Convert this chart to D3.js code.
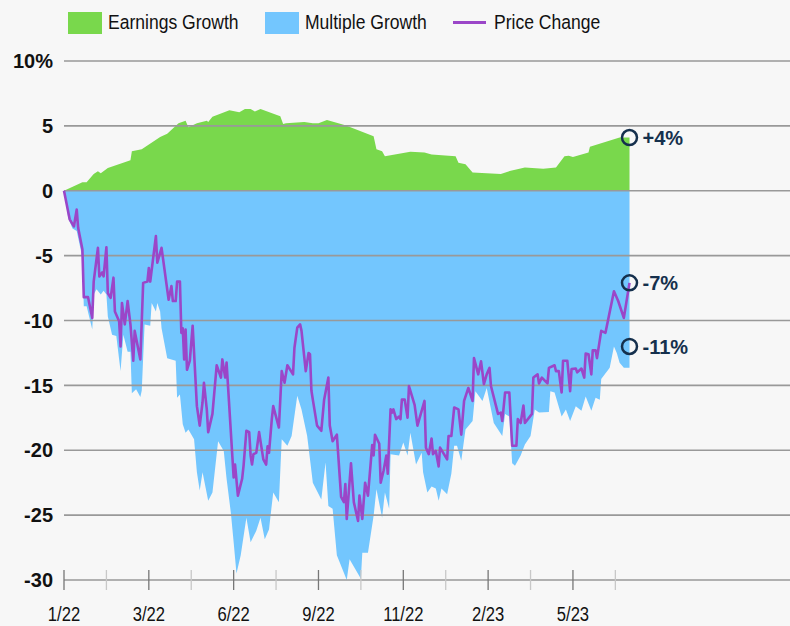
<!DOCTYPE html>
<html>
<head>
<meta charset="utf-8">
<style>
    body { margin: 0; background: #f7f7f7; }
    svg { display: block; font-family: "Liberation Sans", Arial, sans-serif; }
    .grid line { stroke: #999; stroke-width: 1.6px; }
    .ylab { font-weight: bold; font-size: 20px; fill: #111; }
    .xlab { font-size: 20px; fill: #111; }
    .legend text { font-size: 20.5px; fill: #111; }
    .annot { font-weight: bold; font-size: 20px; fill: #15304d; }
</style>
</head>
<body>
<svg></svg>
<script src="https://d3js.org/d3.v7.min.js"></script>
<script>
    var vWidth = 790;
    var vHeight = 626;

    // trading-day index, value (%)
    var earningsGrowth = [[0,0],[13,0.65],[16,0.65],[21,1.3],[24,1.5],[26,1.35],[31,1.75],[47,2.35],[48,3.05],[55,3.2],[68,4.15],[73,4.4],[81,5.2],[86,5.4],[88,4.9],[94,5.2],[101,5.4],[102,5.3],[105,5.7],[117,6.2],[124,6.05],[128,6.3],[132,6.3],[135,6.1],[139,6.3],[153,5.75],[155,5.15],[157,5.2],[170,5.3],[176,5.2],[180,5.2],[186,5.45],[199,5.05],[219,4.2],[221,3.2],[225,3.05],[227,2.65],[245,3.0],[255,2.95],[260,2.8],[277,2.65],[279,2.15],[284,2.05],[289,1.4],[309,1.3],[316,1.55],[326,1.8],[339,1.7],[348,1.8],[354,2.65],[357,2.7],[360,2.6],[371,2.95],[372,3.4],[393,4.1],[400,4.1]];

    var multipleGrowth = [[0,0],[3,-2.1],[6,-2.9],[9,-3.1],[13,-5.15],[14,-8.9],[16,-8.9],[20,-10.7],[21,-8.0],[23,-7.6],[26,-8.0],[28,-7.7],[30,-8.0],[31,-9.7],[34,-11.1],[37,-11.2],[40,-13.9],[42,-11.1],[45,-12.4],[47,-12.4],[48,-15.6],[51,-15.3],[54,-15.9],[55,-15.4],[57,-10.3],[61,-10.4],[62,-8.65],[65,-9.3],[66,-8.65],[68,-9.3],[69,-10.6],[73,-12.9],[79,-13.1],[80,-15.95],[82,-15.7],[84,-18.0],[86,-18.65],[88,-18.4],[92,-19.15],[94,-21.7],[96,-23.1],[98,-21.7],[102,-23.9],[105,-23.25],[109,-19.3],[113,-20.05],[115,-22.2],[118,-24.8],[120,-27.1],[122,-29.5],[125,-28.1],[129,-25.2],[132,-27.1],[136,-26.2],[139,-25.2],[142,-26.85],[145,-26.1],[148,-23.25],[152,-24.0],[154,-19.15],[158,-19.65],[161,-18.9],[165,-15.8],[168,-16.85],[172,-18.9],[174,-20.7],[176,-22.5],[182,-23.8],[185,-20.95],[187,-24.3],[190,-24.5],[193,-28.1],[200,-30],[202,-28.4],[210,-29.9],[211,-27.9],[215,-27.9],[219,-25.05],[221,-23.0],[225,-25.2],[227,-23.25],[230,-24.5],[231,-20.3],[237,-20.4],[240,-19.4],[243,-20.4],[245,-18.65],[249,-21.1],[253,-20.2],[254,-21.7],[257,-23.25],[260,-22.8],[263,-22.95],[265,-23.9],[267,-22.95],[271,-23.4],[274,-21.8],[276,-19.65],[278,-19.65],[281,-20.8],[284,-18.4],[289,-17.75],[291,-15.45],[296,-16.2],[299,-15.2],[304,-17.9],[310,-18.9],[312,-17.2],[315,-17.4],[317,-21.0],[319,-21.2],[323,-20.4],[326,-19.55],[330,-18.9],[333,-16.85],[336,-17.1],[343,-17.05],[344,-15.45],[347,-15.55],[352,-17.4],[355,-16.85],[358,-17.75],[362,-16.6],[366,-16.95],[369,-15.85],[373,-16.95],[376,-15.95],[379,-16.1],[380,-14.5],[386,-13.65],[389,-12.0],[391,-12.5],[393,-13.25],[396,-13.65],[400,-13.65]];

    var priceChange = [[0,0],[4,-2.2],[7,-2.75],[9,-1.45],[10,-2.85],[13,-4.5],[14,-8.2],[17,-8.2],[20,-9.8],[21,-7.0],[24,-4.4],[25,-6.6],[27,-6.3],[28,-6.6],[30,-4.35],[31,-7.9],[33,-8.25],[35,-6.7],[36,-9.3],[39,-10.05],[40,-12.0],[41,-8.65],[43,-10.3],[45,-8.5],[47,-10.3],[49,-13.1],[50,-10.8],[54,-13.0],[56,-7.1],[59,-7.0],[60,-5.95],[61,-7.0],[65,-3.5],[66,-5.55],[69,-4.4],[74,-8.4],[76,-7.35],[77,-8.5],[79,-8.5],[80,-7.0],[82,-7.0],[83,-10.95],[84,-10.6],[85,-13.0],[86,-10.7],[87,-13.8],[89,-13.1],[91,-10.4],[94,-16.6],[96,-18.1],[98,-16.3],[99,-14.8],[101,-16.85],[102,-18.6],[105,-17.2],[108,-13.45],[111,-14.4],[112,-13.0],[114,-14.4],[115,-13.25],[120,-22.1],[121,-21.1],[123,-23.5],[126,-22.2],[127,-21.2],[129,-18.5],[131,-18.6],[132,-20.4],[133,-21.1],[134,-20.3],[136,-20.2],[138,-18.6],[141,-20.7],[143,-21.1],[144,-19.7],[145,-20.2],[147,-17.6],[148,-16.6],[152,-18.25],[154,-13.9],[156,-14.8],[158,-13.45],[162,-14.15],[163,-12.1],[165,-10.55],[167,-10.3],[168,-10.8],[171,-13.9],[173,-12.5],[174,-12.6],[175,-15.4],[176,-16.1],[179,-18.1],[182,-18.5],[184,-16.1],[187,-14.4],[188,-18.1],[190,-19.3],[193,-18.8],[196,-23.6],[198,-24.0],[199,-22.6],[200,-25.3],[203,-21.0],[205,-24.0],[208,-25.45],[209,-23.5],[211,-25.3],[213,-22.5],[215,-23.5],[218,-19.6],[219,-20.4],[220,-18.8],[223,-19.5],[224,-22.5],[226,-21.6],[228,-20.4],[229,-21.8],[231,-16.85],[232,-17.1],[233,-16.85],[235,-17.6],[237,-17.4],[238,-17.6],[239,-16.1],[241,-16.1],[243,-17.5],[244,-15.05],[248,-16.5],[250,-18.1],[255,-16.2],[256,-19.8],[258,-20.3],[260,-19.1],[261,-20.3],[263,-20.05],[265,-21.25],[266,-19.8],[271,-20.7],[272,-18.9],[274,-18.9],[276,-16.7],[279,-16.85],[281,-18.8],[283,-16.2],[286,-15.2],[289,-16.2],[290,-12.9],[293,-14.15],[295,-13.15],[297,-14.9],[299,-14.15],[301,-13.65],[302,-15.05],[307,-17.2],[309,-17.1],[310,-17.75],[312,-15.55],[315,-15.55],[317,-19.65],[320,-19.65],[321,-17.6],[323,-17.9],[325,-16.55],[326,-17.9],[331,-17.2],[332,-14.4],[335,-14.15],[336,-14.85],[338,-14.4],[342,-14.85],[343,-13.65],[347,-13.45],[348,-13.9],[350,-13.9],[352,-15.55],[353,-13.1],[356,-13.1],[358,-15.45],[359,-13.75],[362,-13.7],[363,-14.0],[366,-13.7],[368,-14.4],[369,-12.55],[371,-12.6],[373,-14.15],[374,-12.3],[376,-12.3],[377,-12.9],[380,-10.8],[383,-10.95],[389,-7.75],[392,-8.5],[396,-9.8],[400,-7.1]];

    var xTickDays = [0, 30, 60, 90, 120, 150, 180, 210, 240, 270, 300, 330, 360, 390];
    var xTickLabels = {0: '1/22', 60: '3/22', 120: '6/22', 180: '9/22', 240: '11/22', 300: '2/23', 360: '5/23'};
    var yTicks = [10, 5, 0, -5, -10, -15, -20, -25, -30];

    var lastDay = 400;
    var annotValues = [4.1, -7.1, -12];
    var annotLabels = ['+4%', '-7%', '-11%'];

    var legendItems = [
        {name: 'Earnings Growth', type: 'rect', color: '#79d84c'},
        {name: 'Multiple Growth', type: 'rect', color: '#73c6fe'},
        {name: 'Price Change', type: 'line', color: '#9b46c8'}
    ];

    var svg = d3.select('svg').attr('width', vWidth).attr('height', vHeight);

    var x = d3.scaleLinear().domain([0, 400]).range([64, 629.5]);
    var y = d3.scaleLinear().domain([-30, 10]).range([580, 61]);

    // squeeze text to look like a narrow face (no narrow font installed)
    function condense(sel, k) {
        sel.each(function () {
            var len = this.getComputedTextLength();
            d3.select(this).attr('textLength', len * k).attr('lengthAdjust', 'spacingAndGlyphs');
        });
    }

    // areas
    var area = d3.area()
        .x(function (d) { return x(d[0]); })
        .y0(y(0))
        .y1(function (d) { return y(d[1]); });

    svg.append('path').datum(multipleGrowth).attr('d', area).attr('fill', '#73c6fe');
    svg.append('path').datum(earningsGrowth).attr('d', area).attr('fill', '#79d84c');

    // gridlines
    var grid = svg.append('g').attr('class', 'grid');
    grid.selectAll('line').data(yTicks).enter().append('line')
        .attr('x1', 64).attr('x2', vWidth)
        .attr('y1', function (d) { return y(d); })
        .attr('y2', function (d) { return y(d); });

    // x ticks
    svg.append('g').selectAll('line').data(xTickDays).enter().append('line')
        .attr('x1', function (d) { return x(d); })
        .attr('x2', function (d) { return x(d); })
        .attr('y1', y(-30) - 10).attr('y2', y(-30) + 10)
        .attr('stroke', function (d) { return xTickLabels[d] ? '#777' : '#c8c8c8'; })
        .attr('stroke-width', 1.3);

    svg.append('g').selectAll('text').data(xTickDays.filter(function (d) { return xTickLabels[d]; }))
        .enter().append('text')
        .attr('class', 'xlab')
        .attr('x', function (d) { return x(d); })
        .attr('y', 621)
        .attr('text-anchor', 'middle')
        .text(function (d) { return xTickLabels[d]; })
        .call(condense, 0.83);

    // y labels
    svg.append('g').selectAll('text').data(yTicks).enter().append('text')
        .attr('class', 'ylab')
        .attr('x', 53)
        .attr('y', function (d) { return y(d); })
        .attr('dy', '0.36em')
        .attr('text-anchor', 'end')
        .text(function (d) { return d === 10 ? '10%' : d; });

    // price line
    var line = d3.line()
        .x(function (d) { return x(d[0]); })
        .y(function (d) { return y(d[1]); });
    svg.append('path').datum(priceChange).attr('d', line)
        .attr('fill', 'none').attr('stroke', '#9b46c8')
        .attr('stroke-width', 2.6).attr('stroke-linejoin', 'round');

    // end annotations
    var ann = svg.append('g').selectAll('g').data(annotValues).enter().append('g');
    ann.append('circle')
        .attr('cx', x(lastDay))
        .attr('cy', function (d) { return y(d); })
        .attr('r', 7.5)
        .attr('fill', 'none').attr('stroke', '#15304d').attr('stroke-width', 2.5);
    ann.append('text')
        .attr('class', 'annot')
        .attr('x', x(lastDay) + 13)
        .attr('y', function (d) { return y(d); })
        .attr('dy', '0.36em')
        .text(function (d, i) { return annotLabels[i]; });

    // legend
    var legendX = [68, 265, 453];
    var lg = svg.append('g').attr('class', 'legend').selectAll('g').data(legendItems).enter().append('g')
        .attr('transform', function (d, i) { return 'translate(' + legendX[i] + ',0)'; });
    lg.filter(function (d) { return d.type === 'rect'; }).append('rect')
        .attr('x', 0).attr('y', 12).attr('width', 34).attr('height', 22)
        .attr('fill', function (d) { return d.color; });
    lg.filter(function (d) { return d.type === 'line'; }).append('line')
        .attr('x1', 0).attr('x2', 33).attr('y1', 22.5).attr('y2', 22.5)
        .attr('stroke', function (d) { return d.color; }).attr('stroke-width', 3);
    lg.append('text')
        .attr('x', function (d) { return d.type === 'rect' ? 40 : 41; })
        .attr('y', 29)
        .text(function (d) { return d.name; })
        .call(condense, 0.855);
</script>
</body>
</html>
